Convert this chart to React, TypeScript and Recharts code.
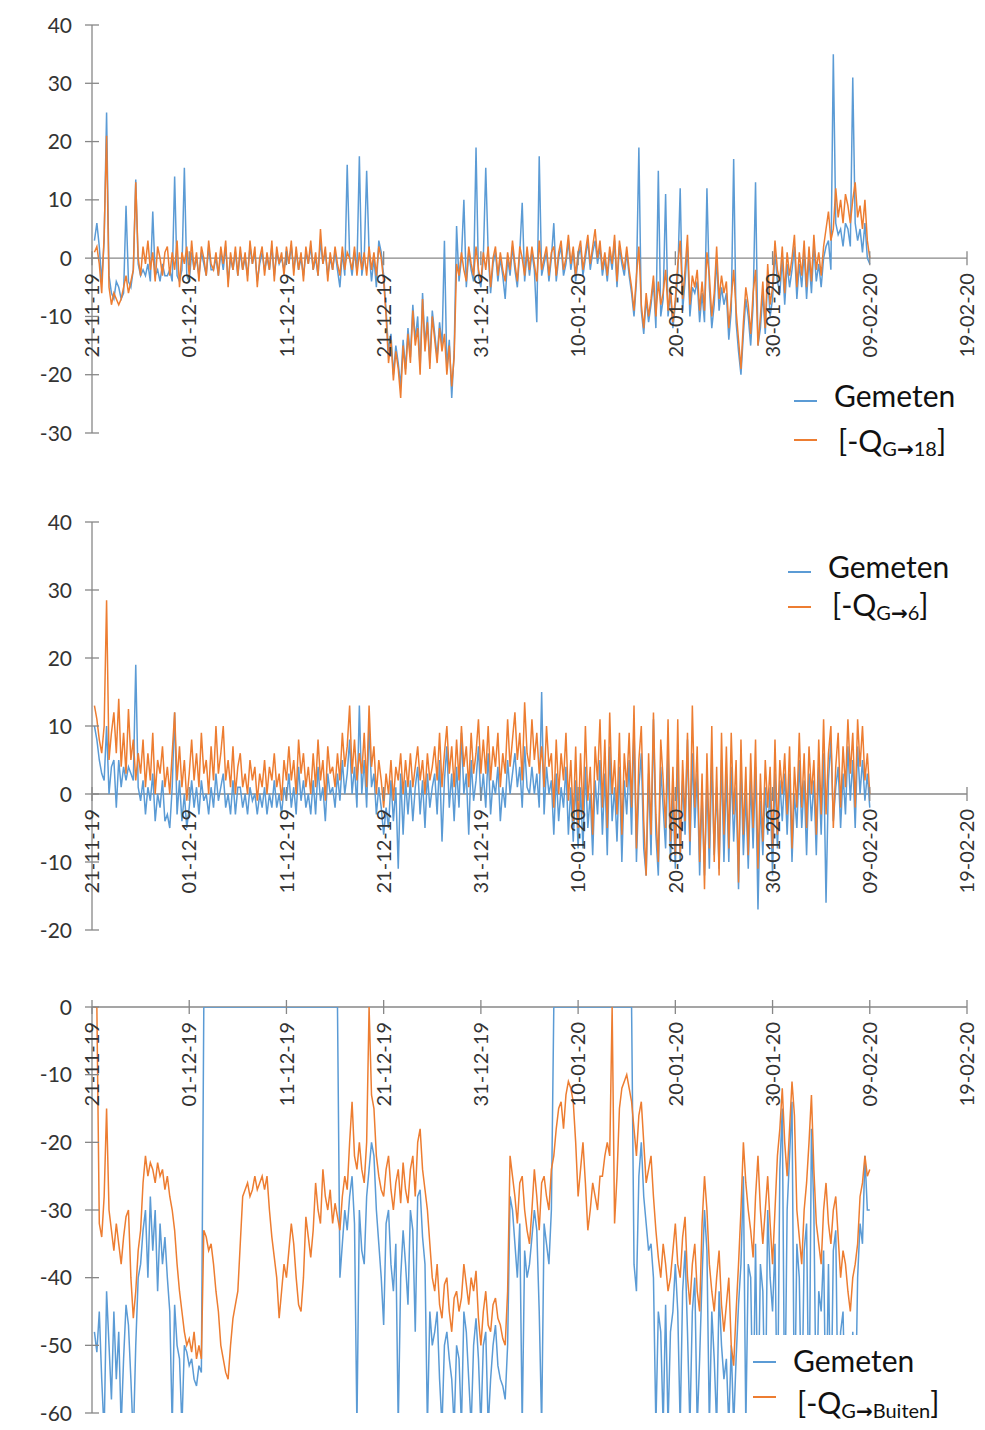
import { LineChart, Line, XAxis, YAxis, ReferenceLine } from "recharts";

// x axis: days since 21-11-19, one reading every 6 hours (t = 0.25 ... 80)
const tickDays = [0, 10, 20, 30, 40, 50, 60, 70, 80, 90];
const tickLabels = ["21-11-19", "01-12-19", "11-12-19", "21-12-19", "31-12-19", "10-01-20", "20-01-20", "30-01-20", "09-02-20", "19-02-20"];
const STEP = 0.25;

const yTicksTop = [40, 30, 20, 10, 0, -10, -20, -30];
const yTicksMid = [40, 30, 20, 10, 0, -10, -20];
const yTicksLow = [0, -10, -20, -30, -40, -50, -60];

// panel 1: Gemeten vs [-Q G->18]
const p1Gemeten = [
  3, 6, 2, -4, 3, 25, -3, -6, -7, -4,
  -5, -7, -6, 9, -4, -5, -2, 13.5, -1, -3,
  -2, -3, -1, -4, 8, -3, -2, -4, -1, -3,
  -3, -2, -4, 14, -3, -4, -2, 15.5, -3, -4,
  1, -2, 0, -3, 1, -1, -3, 2, -2, -2,
  0, -3, 1, -2, 2, -4, 0, -2, 1, -3,
  1, -2, 0, -3, 2, -1, 1, -4, -1, 1,
  -2, 0, -2, 2, -3, 1, -1, 0, -2, 1,
  -1, 2, -2, 1, -2, 0, -3, 1, -1, 2,
  -2, 0, -3, 3, -1, 1, -3, 0, -2, 1,
  -2, -5, 1, -3, 16, 0, -3, 1, -2, 17.5,
  -3, 0, 15, 1, -4, 0, -5, 3, 1, -3,
  -9, -16, -13, -20, -15, -18, -22, -14, -19, -12,
  -17, -8, -14, -10, -19, -6, -15, -10, -18, -9,
  -13, -17, -11, -15, 3, -19, -14, -24, -16, 5.5,
  -4, 0, 10, -5, 1, -2, -4, 19, -3, -5,
  0, 15.5, 1, -6, -1, 1, -4, 0, -3, -7,
  0, -3, 2, -2, -5, 1, 9.5, -4, 1, -3,
  1, -2, -11, 17.5, -3, -1, 1, -4, 0, 6,
  -4, 0, 2, -3, -1, 3, -2, 1, -4, 0,
  2, -3, 0, 3, -2, 1, 3, -1, 2, -3,
  0, -4, 1, -2, 3, -5, 2, -1, -3, 1,
  -3, -6, -10, -4, 19, -9, -13, -7, -11, -8,
  -4, -12, 15, -10, -7, 11, -10, -6, -12, -8,
  -3, 12, -9, -4, 2, -10, -5, -6, -4, -11,
  -6, -11, 12, -5, -12, -8, 0, -9, -5, -8,
  -6, -14, -9, 17, -11, -16, -20, -13, -7, -10,
  -15, -8, 13, -15, -12, -6, -13, -3, -10, -7,
  1, -4, -6, 0, -8, -1, -5, -2, 2, -7,
  -1, -5, 1, -7, 0, -6, 2, -4, -1, -5,
  0, 2, 3, -2, 35, 6, 4, 5, 2, 6,
  5, 2, 31, 6, 3, 5, 1, 6, 0, -1,
];
const p1Model = [
  1, 2, -1, -6, 4, 21, -5, -8, -6, -7,
  -8, -7, -5, -3, -6, -4, -2, 13, 0, -3,
  2, -1, 3, -2, 1, -4, 2, 0, -3, 1,
  2, -3, 1, -2, 3, -5, 1, -1, 2, -3,
  3, -2, 1, -4, 2, 0, -3, 3, -1, -2,
  1, -3, 2, -1, 3, -5, 1, -2, 2, -3,
  2, -2, 1, -4, 3, -1, 2, -5, 0, 2,
  -3, 1, -2, 3, -4, 2, -1, 1, -3, 2,
  -1, 3, -3, 2, -2, 1, -4, 2, -1, 3,
  -2, 1, -3, 5, -1, 2, -4, 1, -2, 2,
  -1, -3, 2, -2, 1, 0, -2, 2, -3, 1,
  -2, 1, -3, 2, -2, 1, -3, 2, 0, -4,
  -10, -18, -14, -21, -16, -19, -24, -15, -20, -13,
  -18, -9, -15, -12, -20, -7, -16, -11, -19, -10,
  -14, -18, -12, -16, -13, -20, -15, -22, -17, -1,
  -3, 1, -2, -4, 2, -1, -3, 2, -2, -4,
  1, -2, 2, -5, 0, 2, -3, 1, -2, -4,
  1, -2, 3, -1, -4, 2, 0, -3, 2, -2,
  2, -1, -4, 3, -2, 0, 2, -3, 1, 2,
  -3, 1, 3, -2, 0, 4, -1, 2, -3, 1,
  3, -2, 1, 4, -1, 2, 5, 0, 3, -2,
  1, -3, 2, -1, 4, -4, 3, 0, -2, 2,
  -2, -5, -9, -3, 2, -8, -12, -6, -10, -7,
  -3, -10, -4, -8, -6, -2, -9, -5, -11, -7,
  -1, 3, -7, -2, 4, -8, -3, -5, -2, -9,
  -4, -9, 1, -3, -10, -6, 2, -7, -3, -6,
  -4, -12, -7, -2, -9, -14, -19, -11, -5, -8,
  -13, -6, -2, -15, -10, -4, -12, -1, -8, -5,
  3, -2, -4, 2, -6, 1, -3, 0, 4, -5,
  1, -3, 3, -5, 2, -4, 4, -2, 1, -3,
  2, 5, 8, 3, 5, 12, 7, 10, 6, 11,
  9, 6, 10, 13, 7, 9, 5, 10, 3, 0,
];

// panel 2: Gemeten vs [-Q G->6]
const p2Gemeten = [
  10, 8, 5, 3, 2, 10, 0, 4, 5, -2,
  5, 1, 4, 2, 4, 3, 2, 19, 1, -1,
  2, -3, 1, -1, 3, -4, 0, -2, 2, -4,
  -3, -5, 1, 12, -3, 2, -4, 0, -5, -2,
  2, -2, 1, -3, 2, -1, 0, -3, 1, -2,
  3, -1, 1, 3, -2, 0, -3, 2, -3, 1,
  1, -2, 0, -3, 1, -1, 0, -3, 0, -2,
  1, -3, 0, -2, 2, -2, 0, -3, 1, -1,
  3, -2, 1, -3, 4, -1, 2, -2, 0, -3,
  2, -3, 4, -1, 1, -4, 3, 0, 1, -2,
  3, -1, 5, 0, 3, 8, 0, 4, -2, 13,
  0, 5, -2, 10, 1, 3, -3, 1, -2, -6,
  -2, -5, 2, -4, 1, -11, 3, -6, 2, -3,
  2, -4, 1, 4, -3, 2, -5, 3, -2, 1,
  3, -3, 5, -7, 2, 7, -2, 3, -4, 4,
  -2, 9, 0, 3, -6, 5, -1, 2, 7, -1,
  3, -2, 6, -3, 2, 0, 4, -4, 1, -2,
  5, 0, 3, 6, 1, 4, -2, 7, 1, 0,
  4, 0, 3, -2, 15, -3, 4, 0, 2, -6,
  3, -4, 1, -2, 4, -6, 1, -7, 2, -8,
  1, -8, 4, -5, 0, -9, 2, -3, 5, -6,
  3, -9, 7, -4, 1, -7, 4, -10, 2, -3,
  5, -6, 10, -10, 1, 6, -8, -12, 3, -9,
  11, -6, -12, 4, -2, -8, 6, -10, 0, -11,
  5, -10, 2, -6, 8, -9, 6, -5, 3, -12,
  0, -12, 2, -11, 5, -9, 1, -11, 5, -10,
  3, -10, 4, -7, 1, -14, 4, -9, 0, -11,
  2, -8, 4, -17, -1, -9, 1, -6, 1, -12,
  3, -8, 2, -4, 3, -6, 3, -10, 0, -5,
  5, -5, 2, -9, 3, -4, 2, -9, 4, -6,
  6, -16, 2, 8, -4, 1, 4, -5, 3, -3,
  7, -1, 5, -5, 7, 0, 5, -1, 3, -2,
];
const p2Model = [
  13, 11, 8, 6, 10, 28.5, 5, 9, 12, 6,
  14, 4, 9, 3, 12.5, 5, 8, 2, 6, 3,
  8, 1, 6, 2, 9, 0, 5, 3, 7, 1,
  4, 0, 6, 12, 2, 7, 1, 5, -1, 3,
  8, 2, 6, 1, 9, 3, 5, 0, 7, 2,
  10, 3, 6, 10, 2, 5, 1, 7, 0, 4,
  6, 1, 3, 0, 5, 2, 4, -1, 3, 1,
  5, 0, 4, 2, 6, 1, 3, -1, 5, 2,
  7, 2, 5, 0, 8, 3, 6, 1, 4, 0,
  6, 1, 8, 2, 5, -1, 7, 3, 4, 1,
  6, 2, 9, 4, 7, 13, 3, 8, 2, 6,
  3, 9, 1, 13, 4, 7, 0, 5, 2, -2,
  3, 0, 5, -1, 4, 2, 6, 0, 5, 1,
  6, 1, 4, 7, 2, 5, 0, 6, 2, 4,
  7, 2, 9, 1, 6, 10, 3, 7, 1, 8,
  2, 10, 4, 7, 1, 9, 3, 6, 11, 3,
  8, 3, 10, 2, 7, 4, 9, 1, 6, 3,
  11, 4, 8, 12, 5, 9, 2, 13.5, 6, 4,
  11, 5, 9, 3, 7, 1, 10, 4, 6, -2,
  8, 0, 6, 2, 9, -1, 5, -4, 7, -5,
  6, -3, 10, -1, 4, -6, 7, 2, 11, -2,
  8, -5, 12, 0, 5, -3, 9, -6, 6, 1,
  9, -2, 13, -8, 5, 10, -4, -12, 6, -6,
  12, -3, -10, 8, 2, -5, 11, -7, 4, -9,
  11, -9, 5, -4, 9, -7, 13, -2, 7, -10,
  3, -14, 6, -8, 10, -10, 4, -12, 9, -6,
  7, -8, 9, -3, 5, -13, 8, -6, 4, -9,
  6, -5, 8, -11, 3, -7, 5, -2, 4, -8,
  8, -6, 5, 0, 6, -3, 7, -8, 4, -2,
  9, -2, 6, -5, 7, 0, 5, -6, 8, -3,
  11, -3, 6, 10, -5, 4, 9, -2, 7, 1,
  11, 3, 9, -2, 11, 4, 10, 2, 6, 0,
];

// panel 3: Gemeten vs [-Q G->Buiten]
const p3Gemeten = [
  -48, -51, -45, -55, -63, -42, -50, -58, -45, -55,
  -48, -62, -52, -44, -47, -55, -64, -50, -40, -38,
  -33, -30, -40, -28, -36, -30, -42, -32, -38, -34,
  -40, -45, -62, -44, -50, -52, -62, -50, -51, -53,
  -52, -55, -56, -53, -54, 0, 0, 0, 0, 0,
  0, 0, 0, 0, 0, 0, 0, 0, 0, 0,
  0, 0, 0, 0, 0, 0, 0, 0, 0, 0,
  0, 0, 0, 0, 0, 0, 0, 0, 0, 0,
  0, 0, 0, 0, 0, 0, 0, 0, 0, 0,
  0, 0, 0, 0, 0, 0, 0, 0, 0, 0,
  0, -40, -35, -30, -33, -28, -25, -32, -62, -30,
  -36, -38, -28, -24, -20, -22, -30, -35, -40, -47,
  -32, -30, -38, -42, -35, -62, -40, -33, -38, -44,
  -30, -33, -48, -28, -27, -34, -38, -62, -45, -50,
  -48, -45, -55, -62, -50, -48, -52, -55, -62, -50,
  -52, -62, -45, -48, -55, -62, -50, -46, -52, -62,
  -50, -48, -62, -55, -50, -47, -53, -55, -56, -58,
  -50, -28, -30, -35, -40, -32, -62, -36, -40, -38,
  -34, -30, -33, -45, -62, -32, -35, -38, -30, 0,
  0, 0, 0, 0, 0, 0, 0, 0, 0, 0,
  0, 0, 0, 0, 0, 0, 0, 0, 0, 0,
  0, 0, 0, 0, 0, 0, 0, 0, 0, 0,
  0, 0, -38, -42, -25, -20, -28, -32, -36, -35,
  -40, -62, -45, -48, -62, -44, -62, -48, -45, -38,
  -45, -62, -42, -36, -48, -62, -45, -40, -62, -52,
  -40, -30, -36, -62, -45, -52, -62, -42, -50, -55,
  -52, -62, -50, -62, -52, -44, -38, -25, -62, -38,
  -40, -62, -35, -62, -38, -42, -62, -30, -40, -45,
  -35, -62, -24, -15, -62, -30, -22, -14, -62, -35,
  -40, -62, -36, -32, -62, -18, -30, -62, -42, -45,
  -36, -62, -38, -62, -36, -33, -62, -48, -45, -62,
  -50, -62, -48, -62, -40, -32, -35, -22, -30, -30,
];
const p3Model = [
  0, 0, -32, -34, -28, -15, -30, -33, -36, -32,
  -35, -38, -34, -31, -30, -40, -46, -42, -36, -33,
  -26, -22, -25, -23, -24, -26, -23, -25, -24, -27,
  -25, -28, -30, -33, -38, -42, -45, -48, -50, -49,
  -51, -48, -52, -50, -52, -33, -34, -36, -35, -38,
  -42, -45, -50, -52, -54, -55, -50, -46, -44, -42,
  -35, -28, -27, -26, -28, -27, -25, -27, -26, -25,
  -27, -25, -30, -34, -37, -40, -46, -42, -38, -40,
  -36, -32, -35, -40, -44, -45, -40, -31, -34, -37,
  -33, -26, -30, -32, -24, -28, -30, -27, -32, -29,
  -31, -33, -28, -25, -27, -20, -14, -22, -24, -20,
  -24, -26, -20, 0, -13, -15, -22, -25, -27, -28,
  -24, -22, -27, -30, -26, -24, -29, -23, -27, -29,
  -24, -22, -28, -20, -18, -24, -27, -30, -35, -40,
  -42, -38, -44, -46, -41, -40, -45, -48, -43, -42,
  -45, -43, -38, -41, -44, -40, -42, -39, -46, -50,
  -45, -42, -47, -48, -44, -43, -46, -47, -49, -50,
  -42, -22, -25, -28, -32, -26, -25, -30, -33, -35,
  -30, -24, -28, -33, -26, -25, -28, -30, -24, -22,
  -18, -15, -14, -18, -13, -11, -12, -14, -20, -28,
  -24, -20, -26, -33, -30, -26, -28, -30, -25, -25,
  -22, -20, -22, 0, -32, -25, -15, -12, -11, -10,
  -12, -14, -18, -22, -16, -14, -20, -26, -24, -22,
  -28, -33, -37, -40, -35, -38, -42, -40, -36, -32,
  -38, -40, -34, -31, -40, -44, -38, -35, -42, -45,
  -32, -25, -30, -38, -42, -45, -40, -36, -44, -48,
  -44, -40, -50, -53, -45, -38, -30, -20, -26, -30,
  -33, -37, -28, -22, -30, -35, -30, -25, -32, -38,
  -30, -22, -18, -12, -20, -25, -18, -11, -16, -30,
  -34, -38, -30, -26, -20, -13, -24, -32, -35, -38,
  -30, -26, -32, -35, -30, -28, -34, -40, -36, -38,
  -42, -45, -40, -38, -35, -28, -26, -22, -25, -24,
];

const BLUE = "#5b9bd5";
const ORANGE = "#ed7d31";
const AXIS = "#878787";
const TEXT = "#333333";
const FONT = "Lato, 'Open Sans', sans-serif";

const toRows = (gem: number[], mod: number[]) =>
  gem.map((g, i) => ({ t: (i + 1) * STEP, gemeten: g, model: mod[i] }));

const YTick = ({ x, y, payload }: any) => (
  <g>
    <line x1={x - 7} x2={x + 7} y1={y} y2={y} stroke={AXIS} strokeWidth={1.3} />
    <text x={x - 20} y={y} dy="0.36em" textAnchor="end" fontSize={21} fill={TEXT} fontFamily={FONT}>
      {payload.value}
    </text>
  </g>
);

const XTick = ({ x, payload, zeroY }: any) => {
  const label = tickLabels[tickDays.indexOf(payload.value)];
  const ty = zeroY + 15;
  return (
    <g>
      <line x1={x} x2={x} y1={zeroY - 7} y2={zeroY + 7} stroke={AXIS} strokeWidth={1.3} />
      <text x={x} y={ty} dy="0.36em" textAnchor="end" transform={`rotate(-90 ${x} ${ty})`} fontSize={20} fill={TEXT} fontFamily={FONT}>
        {label}
      </text>
    </g>
  );
};

interface PanelProps {
  top: number;
  height: number;
  plotTop: number;
  plotBottom: number;
  domain: [number, number];
  yTicks: number[];
  gem: number[];
  mod: number[];
}

function Panel({ top, height, plotTop, plotBottom, domain, yTicks, gem, mod }: PanelProps) {
  const mTop = plotTop - top;
  const mBottom = top + height - plotBottom;
  const zeroY = mTop + ((plotBottom - plotTop) * domain[1]) / (domain[1] - domain[0]);
  return (
    <div style={{ position: "absolute", left: 0, top, width: 985, height }}>
      <LineChart width={985} height={height} data={toRows(gem, mod)} margin={{ top: mTop, right: 18, bottom: mBottom - 1, left: 52 }}>
        <ReferenceLine y={0} stroke={AXIS} strokeWidth={1.3} />
        <XAxis dataKey="t" type="number" domain={[0, 90]} ticks={tickDays} interval={0} height={1}
          axisLine={false} tickLine={false} tick={<XTick zeroY={zeroY} />} />
        <YAxis type="number" domain={domain} ticks={yTicks} interval={0} width={40} allowDataOverflow
          tickSize={0} tickMargin={0} tickLine={false} axisLine={{ stroke: AXIS, strokeWidth: 1.3 }} tick={<YTick />} />
        <Line type="linear" dataKey="gemeten" stroke={BLUE} strokeWidth={1.5} dot={false} isAnimationActive={false} />
        <Line type="linear" dataKey="model" stroke={ORANGE} strokeWidth={1.5} dot={false} isAnimationActive={false} />
      </LineChart>
    </div>
  );
}

function LegendSvg({ mx, tx, y1, y2, m1, m2, sub, box }: any) {
  return (
    <g fontFamily={FONT} fill="#111">
      {box && <rect x={box[0]} y={box[1]} width={box[2]} height={box[3]} fill="#fff" />}
      <line x1={mx} x2={mx + 23} y1={m1} y2={m1} stroke={BLUE} strokeWidth={2} />
      <text x={tx} y={y1} fontSize={30}>Gemeten</text>
      <line x1={mx} x2={mx + 23} y1={m2} y2={m2} stroke={ORANGE} strokeWidth={2} />
      <text x={tx + 4} y={y2} fontSize={30}>
        [-Q<tspan fontSize={20} dy={4}>G</tspan>
        <tspan fontSize={20} fontFamily="'DejaVu Sans', sans-serif" fontWeight="bold">{"\u2192"}</tspan>
        <tspan fontSize={20}>{sub}</tspan>
        <tspan dy={-4}>]</tspan>
      </text>
    </g>
  );
}

export default function App() {
  return (
    <div style={{ position: "absolute", left: 0, top: 0, width: 985, height: 1430, background: "#fff", fontFamily: FONT }}>
      <Panel top={0} height={460} plotTop={25} plotBottom={433} domain={[-30, 40]} yTicks={yTicksTop} gem={p1Gemeten} mod={p1Model} />
      <Panel top={480} height={480} plotTop={522} plotBottom={930} domain={[-20, 40]} yTicks={yTicksMid} gem={p2Gemeten} mod={p2Model} />
      <Panel top={960} height={470} plotTop={1007} plotBottom={1413} domain={[-60, 0]} yTicks={yTicksLow} gem={p3Gemeten} mod={p3Model} />
      <svg width={985} height={1430} style={{ position: "absolute", left: 0, top: 0, pointerEvents: "none" }}>
        <LegendSvg mx={794} tx={834} y1={407} y2={452} m1={401} m2={440} sub="18" />
        <LegendSvg mx={788} tx={828} y1={578} y2={616} m1={572} m2={607} sub="6" />
        <LegendSvg mx={753} tx={793} y1={1372} y2={1414} m1={1362} m2={1397} sub="Buiten" box={[748, 1335, 215, 95]} />
      </svg>
    </div>
  );
}
